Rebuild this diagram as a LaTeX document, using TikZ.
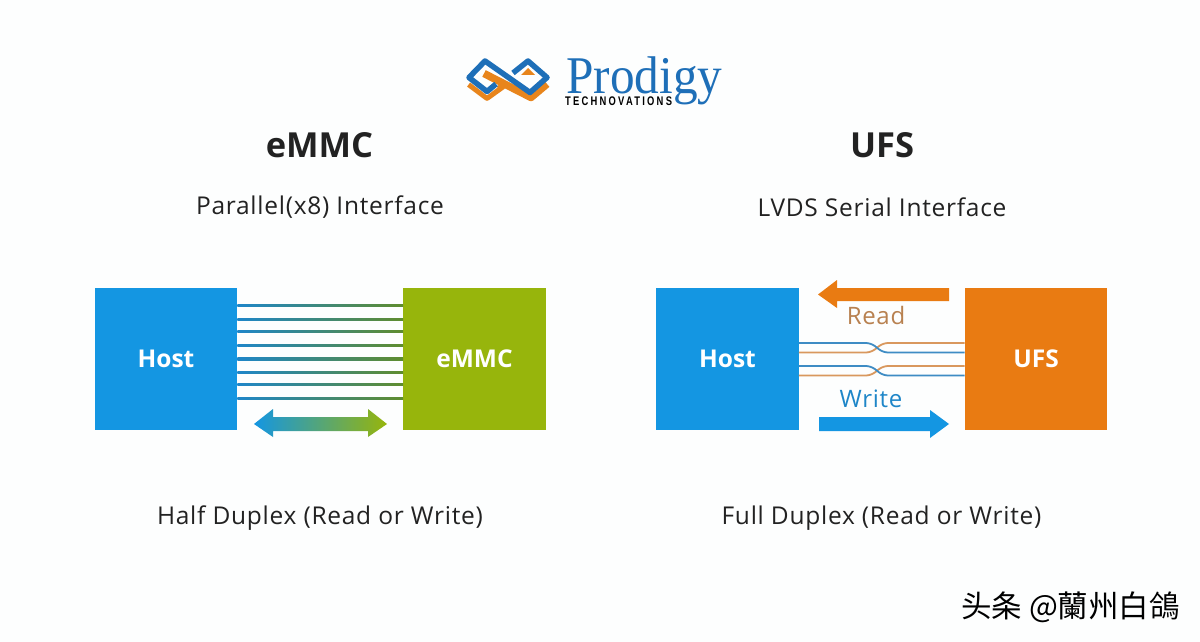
\documentclass[tikz,border=0pt]{standalone}
\usepackage{fontspec}
\setmainfont{Open Sans}
\newfontfamily\logofont{Liberation Serif}
\newfontfamily\techfont{Liberation Sans}
\newfontfamily\cjkfont{Noto Sans CJK TC}
\usetikzlibrary{calc}
\definecolor{hostblue}{HTML}{1496E2}
\definecolor{memgreen}{HTML}{97B50C}
\definecolor{ufsorange}{HTML}{E97B12}
\definecolor{linkblue}{HTML}{1E86C8}
\definecolor{linkgreen}{HTML}{5F8C2E}
\definecolor{pairblue}{HTML}{3E8CC4}
\definecolor{pairorange}{HTML}{D9985E}
\definecolor{logoblue}{HTML}{1E6FB8}
\definecolor{logoorange}{HTML}{E8851C}
\definecolor{inktext}{HTML}{222222}
\definecolor{paper}{HTML}{FDFEFE}
\tikzset{
  x=1pt,y=-1pt,
  blockbox/.style={minimum width=142.5pt,minimum height=142.5pt,inner sep=0pt,text=white,
    font=\fontsize{24.5}{28}\selectfont\bfseries},
  headline/.style={inner sep=0pt,text=inktext,font=\fontsize{34.5}{38}\selectfont\bfseries},
  subline/.style={inner sep=0pt,anchor=base,text=inktext,font=\fontsize{24.5}{28}\selectfont\addfontfeatures{LetterSpace=3}},
  buslink/.style={left color=linkblue,right color=linkgreen},
  pairline/.style={line width=1.8pt,rounded corners=5pt},
}
\begin{document}
\begin{tikzpicture}
\useasboundingbox (0,0) rectangle (1200,642);
\fill[paper] (0,0) rectangle (1200,642);

% logo
\begin{scope}[line join=round]
  \draw[logoorange,line width=6.5pt] (469,84) -- (487,97.5) -- (503,86);
  \draw[logoorange,line width=7.5pt] (484,73.5) -- (531,97.5) -- (547,84);
  \fill[logoorange] (521,75) -- (528,68) -- (535,75) -- cycle;
  \draw[paper,line width=1.2pt] (470,81.5) -- (487,94.5) -- (497,87);
  \draw[logoblue,line width=5.5pt] (496,84) -- (487,91.5) -- (469,77.5) -- (485,61) -- (530,92.5) -- (547,77.5) -- (528,61) -- (513,73);
\end{scope}
\node[inner sep=0pt,anchor=base west,text=logoblue,xscale=.93,font=\logofont\fontsize{53}{53}\selectfont] (logoword) at (566,93) {Prodigy};
\node[inner sep=0pt,anchor=base west,text=black,xscale=.75,font=\techfont\fontsize{12.5}{12.5}\selectfont\bfseries\addfontfeatures{LetterSpace=24}] (logosub) at (565,105) {TECHNOVATIONS};

% headings
\node[headline] (titleA) at (319.5,145) {eMMC};
\node[headline] (titleB) at (882,145) {UFS};
\node[subline] (subA) at (320,214) {Parallel(x8) Interface};
\node[subline] (subB) at (882,216) {LVDS Serial Interface};
\node[subline] (footA) at (320,524) {Half Duplex (Read or Write)};
\node[subline] (footB) at (881.5,524) {Full Duplex (Read or Write)};

% blocks
\node[blockbox,fill=hostblue] (hostA) at (166,359) {\raisebox{-1pt}{Host}};
\node[blockbox,fill=memgreen] (memA) at (474.5,359) {eMMC};
\node[blockbox,fill=hostblue] (hostB) at (727.5,359) {\raisebox{-1pt}{Host}};
\node[blockbox,fill=ufsorange] (memB) at (1036,359) {\raisebox{1pt}{UFS}};

% parallel bus
\foreach \yy in {305.7,319.7,331.3,345.3,359,372.7,384.7,398.3}{
  \path[buslink] ($(hostA.east|-0,\yy)+(0,-1.2)$) rectangle ($(memA.west|-0,\yy)+(0,1.2)$);
}

% half duplex arrow
\path[left color=hostblue,right color=memgreen]
  (254,424) -- (273,409) -- (273,417) -- (368,417) -- (368,409) -- (387,424)
  -- (368,437) -- (368,431) -- (273,431) -- (273,437) -- cycle;

% read and write arrows
\fill[ufsorange] (949,288) -- (837,288) -- (837,280) -- (818,294.5) -- (837,308) -- (837,301) -- (949,301) -- cycle;
\node[inner sep=0pt,text=pairorange!85!black,font=\fontsize{24}{28}\selectfont\addfontfeatures{LetterSpace=3}] (readlabel) at (876,315) {Read};
\node[inner sep=0pt,text=linkblue,font=\fontsize{24}{28}\selectfont\addfontfeatures{LetterSpace=3}] (writelabel) at (871,399) {Write};
\fill[hostblue] (819,417) -- (930,417) -- (930,410) -- (949,424) -- (930,438) -- (930,431) -- (819,431) -- cycle;

% twisted pairs
\foreach \top/\bot in {343/352.5,366/375.5}{
  \draw[pairline,pairorange] (hostB.east|-0,\bot) -- (871,\bot) -- (883,\top) -- (memB.west|-0,\top);
  \draw[pairline,pairblue] (hostB.east|-0,\top) -- (871,\top) -- (883,\bot) -- (memB.west|-0,\bot);
}

% watermark
\node[inner sep=0pt,anchor=west,text=black,font=\cjkfont\fontsize{30.5}{32}\selectfont] (mark) at (961,607) {头条 @蘭州白鴿};
\end{tikzpicture}
\end{document}
